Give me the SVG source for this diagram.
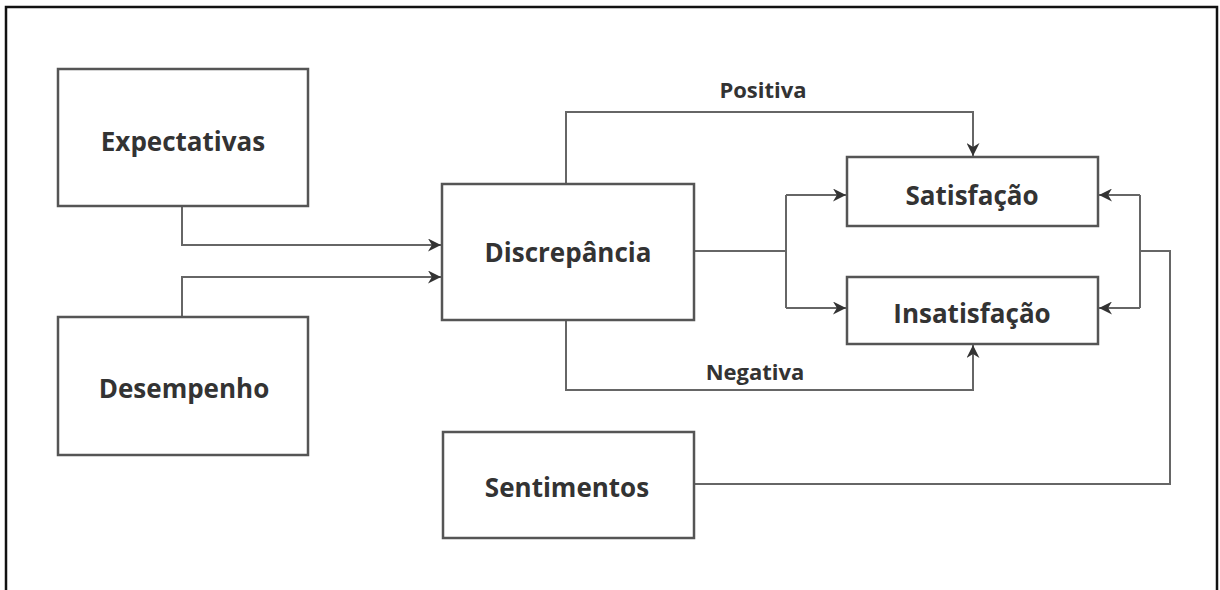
<svg xmlns="http://www.w3.org/2000/svg" width="1220" height="590" viewBox="0 0 1220 590">
<style>
.box{fill:#fff;stroke:#555;stroke-width:2.5}
.lbl{font-family:"Open Sans","Liberation Sans",sans-serif;font-weight:bold;font-size:26px;fill:#333;text-anchor:middle}
.edge{font-family:"Open Sans","Liberation Sans",sans-serif;font-weight:bold;font-size:22px;fill:#333;text-anchor:middle}
.con{fill:none;stroke:#666;stroke-width:2}
</style>
<defs>
<marker id="arr" viewBox="0 0 10 10" refX="10" refY="5" markerWidth="13" markerHeight="13" markerUnits="userSpaceOnUse" orient="auto">
<path d="M0,0 L10,5 L0,10 L3,5 z" fill="#333"/>
</marker>
</defs>
<rect width="1220" height="590" fill="#fff"/>
<path d="M6,590 V7 H1217 V590" fill="none" stroke="#111" stroke-width="2.5"/>
<g id="connectors">
<path class="con" d="M182,206 V245 H441" marker-end="url(#arr)"/>
<path class="con" d="M182,317 V277 H441" marker-end="url(#arr)"/>
<path class="con" d="M566,184 V112 H973 V156" marker-end="url(#arr)"/>
<path class="con" d="M694,251 H786"/>
<path class="con" d="M786,195 V308"/>
<path class="con" d="M786,195 H846" marker-end="url(#arr)"/>
<path class="con" d="M786,308 H846" marker-end="url(#arr)"/>
<path class="con" d="M566,320 V390 H973 V345" marker-end="url(#arr)"/>
<path class="con" d="M694,484 H1170 V251 H1140"/>
<path class="con" d="M1140,195 V308"/>
<path class="con" d="M1140,195 H1099" marker-end="url(#arr)"/>
<path class="con" d="M1140,308 H1099" marker-end="url(#arr)"/>
<text class="edge" x="763" y="98">Positiva</text>
<text class="edge" x="755" y="380">Negativa</text>
</g>
<g id="expectativas"><rect class="box" x="58" y="69" width="250" height="137"/><text class="lbl" x="183" y="151">Expectativas</text></g>
<g id="desempenho"><rect class="box" x="58" y="317" width="250" height="138"/><text class="lbl" x="184" y="398">Desempenho</text></g>
<g id="discrepancia"><rect class="box" x="442" y="184" width="252" height="136"/><text class="lbl" x="568" y="262">Discrepância</text></g>
<g id="satisfacao"><rect class="box" x="847" y="157" width="251" height="69"/><text class="lbl" x="972" y="205">Satisfação</text></g>
<g id="insatisfacao"><rect class="box" x="847" y="277" width="251" height="67"/><text class="lbl" x="972" y="323">Insatisfação</text></g>
<g id="sentimentos"><rect class="box" x="443" y="432" width="251" height="106"/><text class="lbl" x="567" y="497">Sentimentos</text></g>
</svg>
